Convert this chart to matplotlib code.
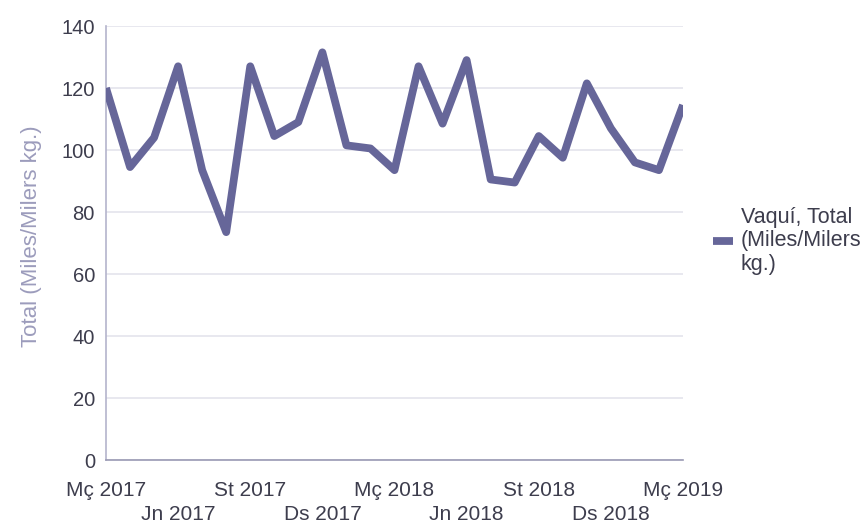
import matplotlib
matplotlib.use("Agg")
import matplotlib.pyplot as plt

months = ["Mç 2017", "Ab 2017", "Mg 2017", "Jn 2017", "Jl 2017", "Ag 2017", "St 2017",
          "Oc 2017", "Nv 2017", "Ds 2017", "Gn 2018", "Fb 2018", "Mç 2018", "Ab 2018",
          "Mg 2018", "Jn 2018", "Jl 2018", "Ag 2018", "St 2018", "Oc 2018", "Nv 2018",
          "Ds 2018", "Gn 2019", "Fb 2019", "Mç 2019"]
values = [120, 94.5, 104, 127, 93.5, 73.5, 127, 104.5, 109, 131.5, 101.5, 100.5,
          93.5, 127, 108.5, 129, 90.5, 89.5, 104.5, 97.5, 121.5, 107, 96, 93.5, 114.5]
series_name = "Vaquí, Total\n(Miles/Milers\nkg.)"
y_label = "Total (Miles/Milers kg.)"
y_ticks = [0, 20, 40, 60, 80, 100, 120, 140]

plt.rcParams['font.family'] = ['Liberation Sans', 'DejaVu Sans']

fig = plt.figure(figsize=(8.65, 5.23), dpi=100)
ax = fig.add_axes([106/865, 1 - 460/523, 577/865, 434/523])

x = list(range(len(values)))
ax.plot(x, values, color='#666699', lw=5.6, solid_joinstyle='round',
        solid_capstyle='butt', label=series_name, zorder=3)

ax.set_xlim(0, len(values) - 1)
ax.set_ylim(0, 140)
ax.set_yticks(y_ticks)
ax.set_yticklabels([str(v) for v in y_ticks])
ax.grid(axis='y', color='#e4e4ec', lw=1.2)
ax.set_axisbelow(True)

top_idx = list(range(0, len(values), 6))
bot_idx = list(range(3, len(values), 6))
ax.set_xticks(top_idx)
ax.set_xticklabels([months[i] for i in top_idx])
ax.set_xticks(bot_idx, minor=True)
ax.set_xticklabels([months[i] for i in bot_idx], minor=True)

tc = '#3d3d4d'
ax.tick_params(axis='x', which='major', length=0, pad=15, labelsize=15, labelcolor=tc)
ax.tick_params(axis='x', which='minor', length=0, pad=32.5, labelsize=15, labelcolor=tc)
ax.tick_params(axis='y', length=0, pad=8, labelsize=14.5, labelcolor=tc)

for s in ['top', 'right']:
    ax.spines[s].set_visible(False)
ax.spines['left'].set_color('#b4b4cc')
ax.spines['left'].set_linewidth(1.2)
ax.spines['bottom'].set_color('#9a9ab4')
ax.spines['bottom'].set_linewidth(1.2)

ax.set_ylabel(y_label, fontsize=16, color='#9c9cbc')
ax.yaxis.set_label_coords(-0.111, 0.516)

leg = ax.legend(loc='center left', bbox_to_anchor=(1.052, 0.505), frameon=False,
                handlelength=0.95, handletextpad=0.33, borderaxespad=0, borderpad=0,
                fontsize=15.5, labelcolor=tc)
for t in leg.get_texts():
    t.set_linespacing(1.15)

fig.savefig("out.png", dpi=100)
